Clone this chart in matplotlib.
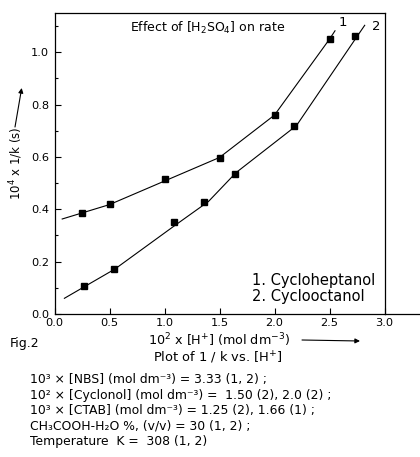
import matplotlib
matplotlib.use("Agg")
import matplotlib.pyplot as plt
from matplotlib.ticker import MultipleLocator

# measured points
h_1 = [0.25, 0.50, 1.00, 1.50, 2.00, 2.50]
inv_k_1 = [0.387, 0.419, 0.515, 0.597, 0.761, 1.051]
h_2 = [0.27, 0.54, 1.09, 1.36, 1.64, 2.18, 2.73]
inv_k_2 = [0.108, 0.173, 0.351, 0.427, 0.534, 0.718, 1.062]

# hand-drawn fit lines
fit_x_1 = [0.07, 0.50, 1.00, 1.50, 2.00, 2.50, 2.55]
fit_y_1 = [0.363, 0.418, 0.508, 0.598, 0.760, 1.050, 1.082]
fit_x_2 = [0.09, 0.55, 1.10, 1.40, 1.65, 2.20, 2.75, 2.82]
fit_y_2 = [0.060, 0.172, 0.340, 0.430, 0.540, 0.720, 1.060, 1.103]

legend_lines = ["1. Cycloheptanol", "2. Cyclooctanol"]
notes = [
    "10³ × [NBS] (mol dm⁻³) = 3.33 (1, 2) ;",
    "10² × [Cyclonol] (mol dm⁻³) =  1.50 (2), 2.0 (2) ;",
    "10³ × [CTAB] (mol dm⁻³) = 1.25 (2), 1.66 (1) ;",
    "CH₃COOH-H₂O %, (v/v) = 30 (1, 2) ;",
    "Temperature  K =  308 (1, 2)",
]

plt.rcParams['font.family'] = ['DejaVu Sans']
plt.rcParams['mathtext.fontset'] = 'dejavusans'

W, H = 420.0, 457.0
fig = plt.figure(figsize=(4.2, 4.57), dpi=100)
ax = fig.add_axes([54.5 / W, 1 - 314 / H, 330 / W, 301 / H])

ax.plot(fit_x_1, fit_y_1, color='black', lw=0.8)
ax.plot(fit_x_2, fit_y_2, color='black', lw=0.8)
ax.plot(h_1, inv_k_1, 's', color='black', ms=5)
ax.plot(h_2, inv_k_2, 's', color='black', ms=5)

ax.set_xlim(0, 3.0)
ax.set_ylim(0, 1.15)
ax.xaxis.set_major_locator(MultipleLocator(0.5))
ax.yaxis.set_major_locator(MultipleLocator(0.2))
ax.yaxis.set_minor_locator(MultipleLocator(0.1))
ax.xaxis.set_major_formatter(plt.FormatStrFormatter('%.1f'))
ax.yaxis.set_major_formatter(plt.FormatStrFormatter('%.1f'))
ax.tick_params(direction='in', labelsize=8.2, length=4, width=0.8)
ax.tick_params(which='minor', direction='in', length=2.5, width=0.8)
ax.tick_params(axis='x', pad=3)
ax.tick_params(axis='y', pad=4)
for s in ax.spines.values():
    s.set_linewidth(0.9)

fig.text(130 / W, 1 - 27.5 / H, r"Effect of [H$_2$SO$_4$] on rate",
         fontsize=9, va='center')
fig.text(343 / W, 1 - 23 / H, "1", fontsize=9.5, va='center', ha='center')
fig.text(376 / W, 1 - 27 / H, "2", fontsize=9.5, va='center', ha='center')
fig.text(252 / W, 1 - 280 / H, legend_lines[0], fontsize=10.5, va='center')
fig.text(252 / W, 1 - 296 / H, legend_lines[1], fontsize=10.5, va='center')

# extended base line, y label arrow, x label arrow
fig.add_artist(plt.Line2D([384.5 / W, 1.0], [1 - 314 / H, 1 - 314 / H],
                          color='black', lw=0.9))
fig.text(16 / W, 1 - 163 / H, r"10$^4$ x 1/k (s)", rotation=90, fontsize=8.5,
         ha='center', va='center')
fig.add_artist(plt.Annotation("", xy=(21.7 / W, 1 - 88 / H),
                              xytext=(15 / W, 1 - 127 / H),
                              xycoords='figure fraction',
                              arrowprops=dict(arrowstyle='-|>', lw=0.8, color='black',
                                              mutation_scale=7, shrinkA=0, shrinkB=0)))
fig.text(219 / W, 1 - 340 / H, r"10$^2$ x [H$^{+}$] (mol dm$^{-3}$)", fontsize=9.2,
         ha='center', va='center')
fig.add_artist(plt.Annotation("", xy=(360 / W, 1 - 341 / H),
                              xytext=(302 / W, 1 - 340 / H),
                              xycoords='figure fraction',
                              arrowprops=dict(arrowstyle='-|>', lw=0.8, color='black',
                                              mutation_scale=7, shrinkA=0, shrinkB=0)))
fig.text(218 / W, 1 - 358 / H, r"Plot of 1 / k vs. [H$^{+}$]", fontsize=9.4,
         ha='center', va='center')
fig.text(10 / W, 1 - 344 / H, "Fig.2", fontsize=9, va='center')

for i, line in enumerate(notes):
    fig.text(30 / W, 1 - (379.5 + i * 15.5) / H, line, fontsize=8.9, va='center')

fig.savefig("out.png", dpi=100)
